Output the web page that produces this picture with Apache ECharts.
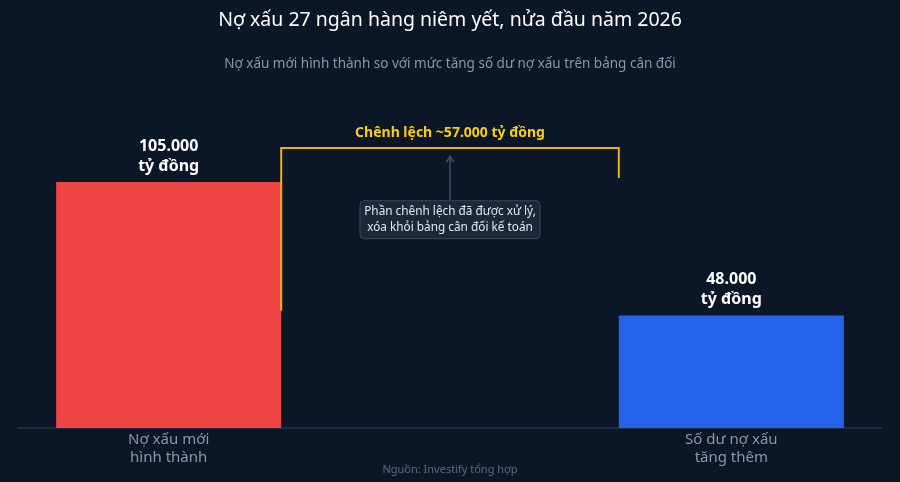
<!DOCTYPE html>
<html>
<head>
<meta charset="utf-8">
<script src="https://cdn.jsdelivr.net/npm/echarts@6/dist/echarts.min.js"></script>
<style>
html,body{margin:0;padding:0;background:#0b1626;}
#chart{width:900px;height:482px;}
</style>
</head>
<body>
<div id="chart"></div>
<script>
// ---- Data ----
const categories = ['Nợ xấu mới\nhình thành', '', 'Số dư nợ xấu\ntăng thêm'];
const barValues = [105000, null, 48000];
const barColors = ['#ef4444', null, '#2563eb'];
const barLabels = ['105.000\ntỷ đồng', '', '48.000\ntỷ đồng'];
// bracket: left foot level, top level, right foot level
const bracketLevels = [50000, 119500, 106700];
const bracketText = 'Chênh lệch ~57.000 tỷ đồng';
const noteText = 'Phần chênh lệch đã được xử lý,\nxóa khỏi bảng cân đối kế toán';
const noteLevels = [116500, 97000]; // arrow tip level, note box top level
const titleText = 'Nợ xấu 27 ngân hàng niêm yết, nửa đầu năm 2026';
const subtitleText = 'Nợ xấu mới hình thành so với mức tăng số dư nợ xấu trên bảng cân đối';
const sourceText = 'Nguồn: Investify tổng hợp';

const FONT = '"Noto Sans", "DejaVu Sans", sans-serif';
const chart = echarts.init(document.getElementById('chart'));

const barData = barValues.map((v, i) => v == null ? null : ({
  value: v,
  itemStyle: { color: barColors[i] },
  label: { formatter: barLabels[i] }
}));

chart.setOption({
  backgroundColor: '#0b1626',
  animation: false,
  title: [
    { text: titleText, left: 'center', top: 5,
      textStyle: { color: '#ffffff', fontSize: 19.5, fontWeight: 'normal', fontFamily: FONT } },
    { text: subtitleText, left: 'center', top: 52,
      textStyle: { color: '#8b96a8', fontSize: 13.5, fontWeight: 'normal', fontFamily: FONT } },
    { text: sourceText, left: 'center', top: 459,
      textStyle: { color: '#5f6b7d', fontSize: 11, fontWeight: 'normal', fontFamily: FONT } }
  ],
  grid: [
    { left: 28, right: 28, top: 100, bottom: 54 },
    { left: 18, right: 18, top: 100, bottom: 54 }
  ],
  xAxis: [
    { type: 'category', data: categories, gridIndex: 0,
      axisLine: { show: false }, axisTick: { show: false },
      axisLabel: { color: '#8b96a8', fontSize: 15, fontFamily: FONT, lineHeight: 18, margin: 3 } },
    { type: 'category', data: categories, gridIndex: 1,
      axisLine: { show: true, lineStyle: { color: '#1f2b3c', width: 2 } },
      axisTick: { show: false }, axisLabel: { show: false } }
  ],
  yAxis: [
    { type: 'value', min: 0, max: 140000, gridIndex: 0, show: false },
    { type: 'value', min: 0, max: 140000, gridIndex: 1, show: false }
  ],
  series: [
    {
      type: 'bar', data: barData, barWidth: '80%', xAxisIndex: 0, yAxisIndex: 0, z: 2,
      label: { show: true, position: 'top', distance: 6, color: '#ffffff', fontSize: 16,
               fontWeight: 'bold', fontFamily: FONT, lineHeight: 20 }
    },
    {
      type: 'custom', xAxisIndex: 0, yAxisIndex: 0, z: 5,
      data: [[1, bracketLevels[0], bracketLevels[1], bracketLevels[2], noteLevels[0], noteLevels[1]]],
      renderItem: function (params, api) {
        const band = api.size([1, 0])[0];
        const half = band * 0.4;
        const xl = api.coord([0, 0])[0] + half;
        const xr = api.coord([2, 0])[0] - half;
        const xc = api.coord([1, 0])[0];
        const yLeft = api.coord([1, api.value(1)])[1];
        const yTop = api.coord([1, api.value(2)])[1];
        const yRight = api.coord([1, api.value(3)])[1];
        const yTip = api.coord([1, api.value(4)])[1];
        const yBox = api.coord([1, api.value(5)])[1];
        return {
          type: 'group',
          children: [
            { type: 'polyline',
              shape: { points: [[xl, yLeft], [xl, yTop], [xr, yTop], [xr, yRight]] },
              style: { stroke: '#eab308', lineWidth: 2, fill: null } },
            { type: 'text',
              style: { text: bracketText, x: xc, y: yTop - 8, align: 'center', verticalAlign: 'bottom',
                       fill: '#facc15', fontSize: 14, fontWeight: 'bold', fontFamily: FONT } },
            { type: 'line', shape: { x1: xc, y1: yTip + 2, x2: xc, y2: yBox },
              style: { stroke: '#4b5869', lineWidth: 1.3 } },
            { type: 'polyline', shape: { points: [[xc - 3.5, yTip + 7], [xc, yTip + 1], [xc + 3.5, yTip + 7]] },
              style: { stroke: '#4b5869', lineWidth: 1.3, fill: null } },
            { type: 'rect', shape: { x: xc - 90, y: yBox, width: 180, height: 38, r: 4 },
              style: { fill: '#1c2739', stroke: '#3a485b', lineWidth: 1 } },
            { type: 'text',
              style: { text: noteText, x: xc, y: yBox + 19, align: 'center', verticalAlign: 'middle',
                       fill: '#e2e8f0', fontSize: 11.8, lineHeight: 16, fontFamily: FONT } }
          ]
        };
      }
    }
  ]
});
</script>
</body>
</html>
